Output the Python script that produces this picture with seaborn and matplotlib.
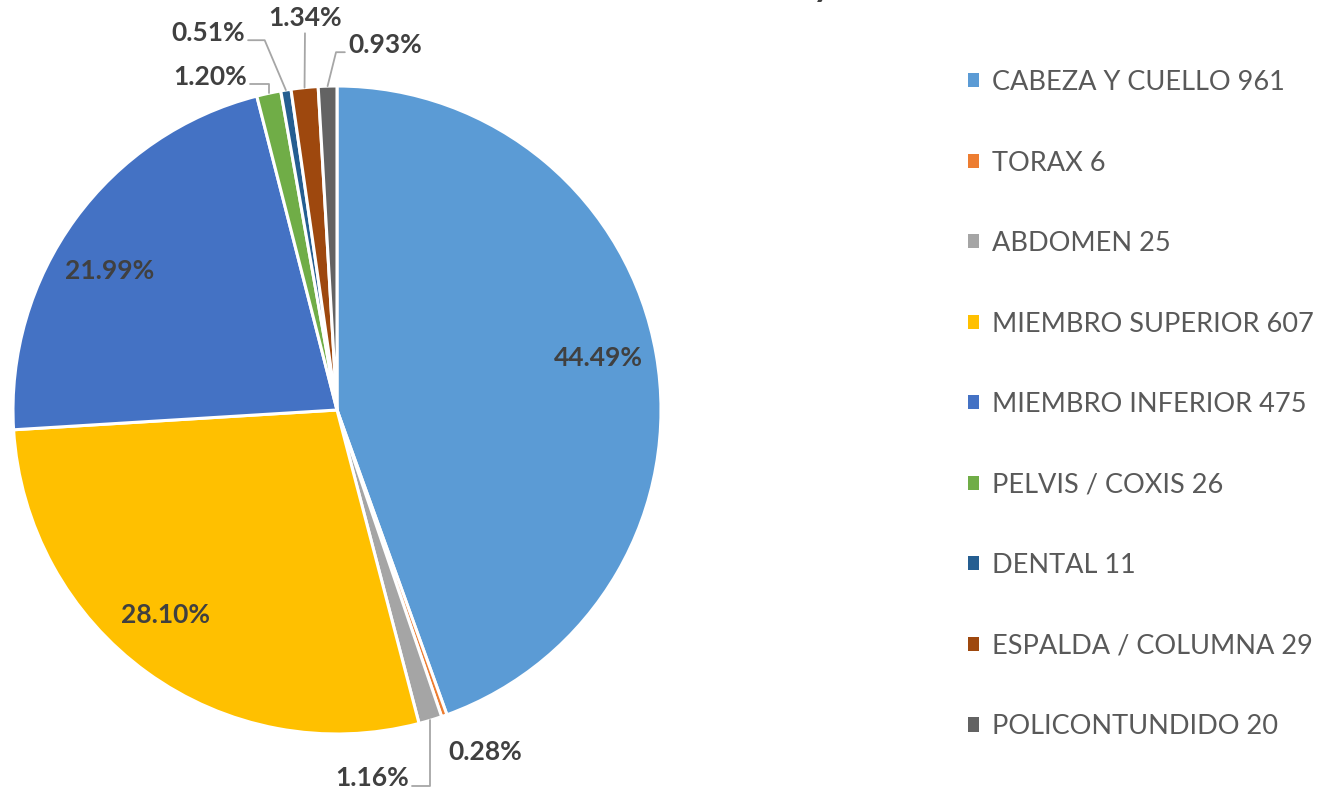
import numpy as np
import seaborn as sb
import matplotlib.pyplot as plt

categories = [
    "CABEZA Y CUELLO",
    "TORAX",
    "ABDOMEN",
    "MIEMBRO SUPERIOR",
    "MIEMBRO INFERIOR",
    "PELVIS / COXIS",
    "DENTAL",
    "ESPALDA / COLUMNA",
    "POLICONTUNDIDO",
]
counts = [961, 6, 25, 607, 475, 26, 11, 29, 20]
colors = [
    "#5B9BD5", "#ED7D31", "#A5A5A5", "#FFC000", "#4472C4",
    "#70AD47", "#255E91", "#9E480E", "#636363",
]

W, H = 1327, 793
CX, CY, R = 337, 410, 324  # pie centre / radius in pixels
LABEL_SIZE = 19
LEGEND_SIZE = 19.5
LABEL_COLOR = "#404040"
LEGEND_COLOR = "#595959"

sb.set_theme(style="white")
plt.rcParams["font.family"] = ["Lato", "DejaVu Sans"]


def px(x, y):
    # pixel position -> pie data coords (radius 1)
    return (x - CX) / R, (CY - y) / R


# label placement: (text pixel x, y), connection style or None, relpos
label_layout = [
    ((598, 358), None, None),
    ((485, 752), None, None),
    ((372, 778), "angle,angleA=0,angleB=90,rad=0", (1.0, 0.15)),
    ((165, 615), None, None),
    ((110, 271), None, None),
    ((210, 77), "angle,angleA=0,angleB=90,rad=0", (1.0, 0.2)),
    ((208, 33), "angle,angleA=0,angleB=113,rad=0", (1.0, 0.2)),
    ((305, 18), "arc3,rad=0", (0.5, 0.0)),
    ((385, 45), "angle,angleA=0,angleB=76,rad=0", (0.0, 0.2)),
]

fig = plt.figure(figsize=(W / 100, H / 100), dpi=100)
ax = fig.add_axes([(CX - R) / W, (H - CY - R) / H, 2 * R / W, 2 * R / H])

wedges, _ = ax.pie(
    counts,
    colors=colors,
    startangle=90,
    counterclock=False,
    radius=1,
    wedgeprops=dict(edgecolor="white", linewidth=2.2),
)
ax.set_xlim(-1, 1)
ax.set_ylim(-1, 1)
ax.set_aspect("equal")
ax.axis("off")

total = sum(counts)
for w, c, (pos, conn, relpos) in zip(wedges, counts, label_layout):
    text = f"{c / total * 100:.2f}%"
    tx, ty = px(*pos)
    if conn is None:
        ax.text(tx, ty, text, ha="center", va="center", fontsize=LABEL_SIZE,
                fontweight="bold", color=LABEL_COLOR)
    else:
        mid = np.deg2rad((w.theta1 + w.theta2) / 2)
        ax.annotate(
            text,
            xy=(np.cos(mid), np.sin(mid)),
            xytext=(tx, ty),
            ha="center", va="center",
            fontsize=LABEL_SIZE, fontweight="bold", color=LABEL_COLOR,
            annotation_clip=False,
            arrowprops=dict(arrowstyle="-", color="#A6A6A6", lw=1.3,
                            connectionstyle=conn, relpos=relpos,
                            shrinkA=0, shrinkB=0),
        )

leg = fig.legend(
    wedges,
    [f"{n} {c}" for n, c in zip(categories, counts)],
    loc="upper left",
    bbox_to_anchor=(968 / W, 1 - 70 / H),
    bbox_transform=fig.transFigure,
    frameon=False,
    fontsize=LEGEND_SIZE,
    handlelength=0.42,
    handleheight=0.42,
    handletextpad=0.45,
    labelspacing=2.05,
    borderpad=0,
    borderaxespad=0,
)
for t in leg.get_texts():
    t.set_color(LEGEND_COLOR)
for h in leg.legend_handles:
    h.set_linewidth(0)

# tail of the clipped chart title at the top edge
fig.text(822 / W, 1 + 4 / H, "y", ha="center", va="baseline", fontsize=26,
         fontweight="bold", color=LABEL_COLOR)

fig.savefig("out.png", dpi=100)
